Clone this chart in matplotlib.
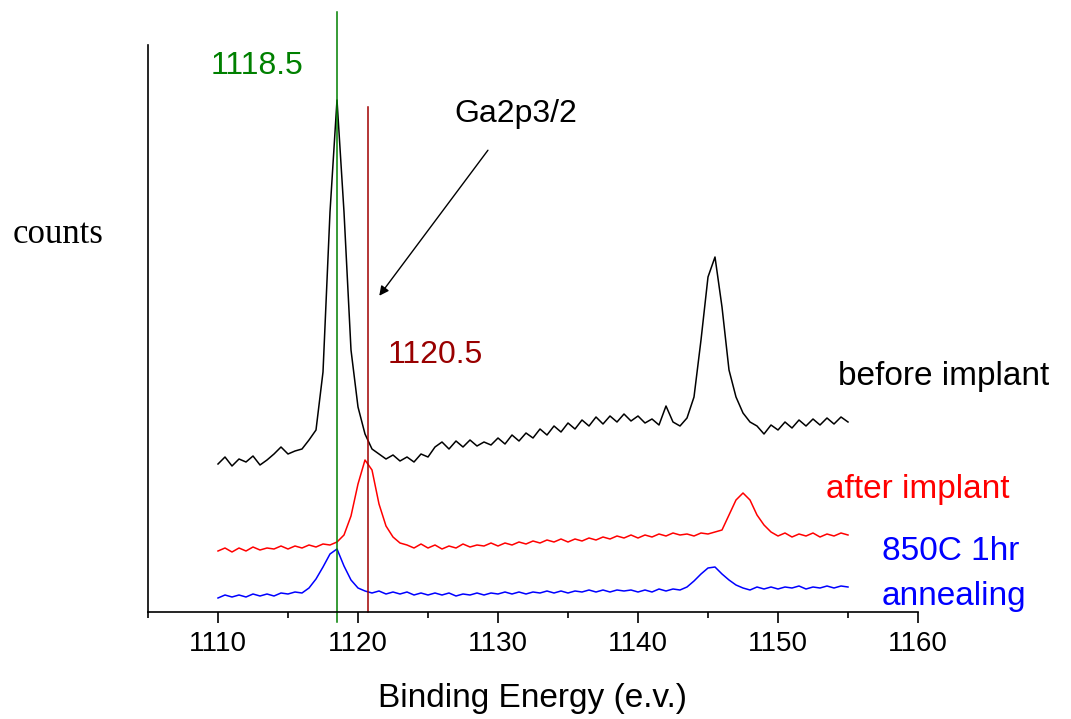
import numpy as np
import matplotlib
matplotlib.use('Agg')
from matplotlib import pyplot as plt
from matplotlib.ticker import MultipleLocator

plt.rcParams['font.family'] = ['Liberation Sans', 'DejaVu Sans']

# binding energy grid (e.V.), 0.5 eV steps from 1110 to 1155
energy = np.arange(1110, 1155.01, 0.5)

# counts (arbitrary units, each curve has its own offset)
before_implant = [148, 155, 146, 153, 150, 156, 147, 152, 158, 165,   # 1110
                  158, 161, 163, 172, 182, 240, 400, 512, 400, 262,   # 1115
                  205, 178, 163, 158, 153, 157, 151, 155, 150, 158,   # 1120
                  155, 165, 170, 163, 171, 165, 172, 166, 170, 167,   # 1125
                  174, 168, 177, 171, 179, 174, 183, 177, 186, 180,   # 1130
                  189, 183, 192, 186, 195, 188, 196, 190, 198, 191,   # 1135
                  196, 189, 193, 187, 206, 190, 186, 194, 215, 272,   # 1140
                  335, 355, 305, 242, 215, 199, 190, 186, 178, 187,   # 1145
                  182, 190, 184, 192, 186, 193, 187, 194, 188, 195,   # 1150
                  190]
after_implant = [61, 64, 60, 64, 61, 65, 62, 64, 63, 66,
                 63, 66, 64, 67, 65, 68, 67, 70, 77, 96,
                 128, 152, 142, 108, 86, 75, 69, 67, 64, 68,
                 64, 67, 63, 66, 64, 68, 65, 67, 66, 69,
                 66, 69, 67, 70, 68, 71, 69, 72, 70, 73,
                 70, 73, 71, 74, 72, 75, 73, 76, 74, 77,
                 74, 77, 75, 78, 76, 79, 77, 78, 76, 79,
                 78, 80, 82, 97, 112, 119, 112, 97, 87, 80,
                 76, 79, 75, 78, 76, 79, 75, 78, 76, 79,
                 77]
annealed = [14, 17, 15, 17, 15, 18, 16, 18, 16, 19,
            18, 20, 19, 24, 33, 45, 58, 63, 46, 32,
            24, 21, 19, 21, 18, 20, 18, 20, 17, 19,
            17, 19, 17, 19, 16, 18, 17, 19, 17, 19,
            18, 20, 18, 20, 18, 20, 19, 21, 19, 21,
            19, 21, 20, 22, 20, 22, 20, 22, 21, 22,
            20, 22, 20, 23, 21, 23, 22, 25, 31, 38,
            44, 45, 38, 32, 27, 24, 22, 25, 23, 25,
            23, 25, 24, 26, 23, 25, 24, 26, 24, 26,
            25]

peak_ref = 1118.5
peak_shift = 1120.7

fig = plt.figure(figsize=(10.71, 7.19), dpi=100)
ax = fig.add_axes([148/1071, 107/719, 770/1071, 567/719])

ax.plot(energy, before_implant, color='black', lw=1.1)
ax.plot(energy, after_implant, color='red', lw=1.1)
ax.plot(energy, annealed, color='blue', lw=1.1)

ax.plot([peak_ref, peak_ref], [-10, 600], color='#008000', lw=1.1, clip_on=False)
ax.plot([peak_shift, peak_shift], [0, 505], color='#a00000', lw=1.1, clip_on=False)

ax.set_xlim(1105, 1160)
ax.set_ylim(0, 567)
ax.spines['top'].set_visible(False)
ax.spines['right'].set_visible(False)
ax.spines['left'].set_linewidth(1.2)
ax.spines['bottom'].set_linewidth(1.2)
ax.set_yticks([])
ax.xaxis.set_major_locator(MultipleLocator(10))
ax.xaxis.set_minor_locator(MultipleLocator(5))
ax.tick_params(axis='x', which='major', length=8, width=1.2, labelsize=20, pad=6)
ax.tick_params(axis='x', which='minor', length=4.5, width=1.2)
ax.set_xlabel('Binding Energy (e.v.)', fontsize=24)
ax.xaxis.set_label_coords(0.5, -0.125)

ax.text(1109.5, 538, '1118.5', color='#008000', fontsize=23, va='baseline', clip_on=False)
ax.text(1122.1, 249, '1120.5', color='#990000', fontsize=23, va='baseline')
ax.text(1126.9, 490, 'Ga2p3/2', color='black', fontsize=23, va='baseline')
ax.annotate('', xy=(1121.4, 314), xytext=(1129.4, 464),
            arrowprops=dict(arrowstyle='-|>', color='black', lw=1, mutation_scale=14))
ax.text(1154.3, 227, 'before implant', color='black', fontsize=24, va='baseline', clip_on=False)
ax.text(1153.4, 114, 'after implant', color='red', fontsize=24, va='baseline', clip_on=False)
ax.text(1157.4, 52, '850C 1hr', color='blue', fontsize=24, va='baseline', clip_on=False)
ax.text(1157.4, 7, 'annealing', color='blue', fontsize=24, va='baseline', clip_on=False)
ax.text(1095.3, 369, 'counts', color='black', fontsize=25, va='baseline',
        family='Liberation Serif', clip_on=False)

fig.savefig('out.png', dpi=100)
